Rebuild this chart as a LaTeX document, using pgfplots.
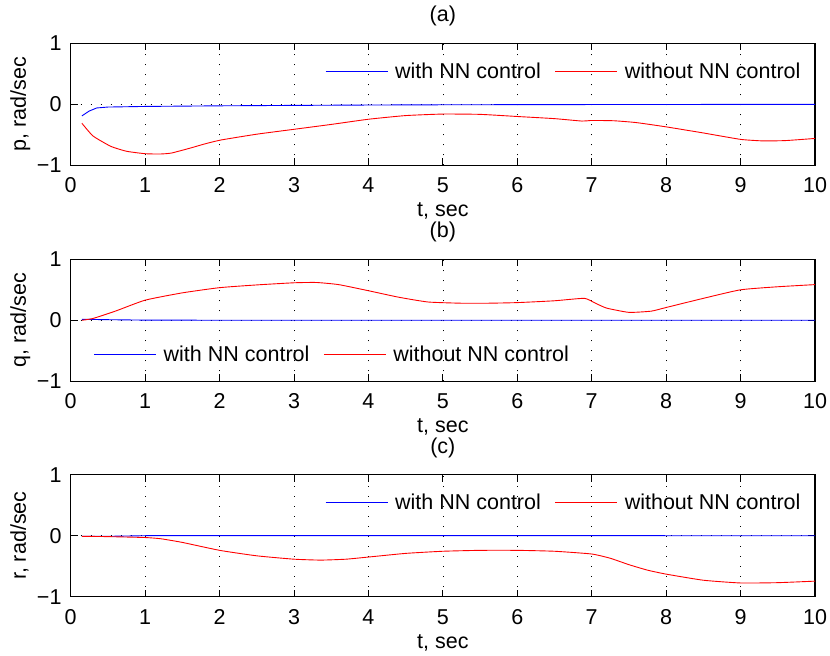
\documentclass[border=0pt]{standalone}
\usepackage{fontspec}
\setmainfont{Liberation Sans}
\usepackage{pgfplots}
\pgfplotsset{compat=1.18}

% Common look of the three angular-rate panels
\pgfplotsset{
  rate panel/.style={
    scale only axis, width=744.3bp, height=122bp,
    xmin=0, xmax=10, ymin=-1, ymax=1,
    xtick={0,1,2,3,4,5,6,7,8,9,10},
    xticklabels={0,1,2,3,4,5,6,7,8,9,10},
    ytick={-1,0,1}, yticklabels={−1,0,1},
    tick align=inside, major tick length=7bp,
    every tick/.style={black, line width=0.8bp},
    axis line style={line width=1.1bp},
    grid=major,
    grid style={black, line width=0.7bp, dash pattern=on 1bp off 9bp},
    xticklabel style={anchor=base, inner sep=0pt, yshift=-27.4bp},
    yticklabel style={anchor=east, inner sep=0pt, xshift=-9bp},
    xlabel={t, sec},
    xlabel style={at={(axis description cs:0.5,0)}, anchor=base, yshift=-51.4bp, inner sep=0pt},
    ylabel style={at={(axis description cs:-0.0601,0.5)}, anchor=base, inner sep=0pt},
    title style={at={(axis description cs:0.5,1)}, anchor=base, yshift=15.5bp, inner sep=0pt},
    legend columns=2,
    legend image code/.code={\draw[#1] (0bp,0bp) -- (62bp,0bp); \path (69bp,0bp);},
    legend style={draw=none, fill=none, inner sep=0pt, outer sep=0pt,
      anchor=west, column sep=0pt,
      nodes={inner sep=0pt},
      /tikz/every even column/.append style={column sep=14bp}},
  },
  with nn/.style={blue, line width=0.9bp},
  without nn/.style={red, line width=0.9bp, smooth, tension=0.3},
}

\begin{document}
\begin{tikzpicture}[font=\fontsize{21.5bp}{25bp}\selectfont]
\useasboundingbox (0,0) rectangle (830bp,656bp);

% (a) roll rate p
\begin{axis}[rate panel, at={(70.7bp,490.7bp)}, anchor=south west,
  title={(a)}, ylabel={p, rad/sec},
  legend style={at={(axis description cs:0.342,0.767)}}]
\addplot[with nn] coordinates {
  (0.15,-0.19) (0.25,-0.11) (0.35,-0.06) (0.5,-0.045) (0.75,-0.04) (1,-0.035)
  (2,-0.025) (3,-0.018) (4,-0.012) (5,-0.008) (6,-0.006) (7,-0.004)
  (8,-0.003) (9,-0.002) (10,-0.001)
};
\addlegendentry{with NN control}
\addplot[without nn] coordinates {
  (0.15,-0.31) (0.3,-0.52) (0.54,-0.69) (0.75,-0.77) (1.0,-0.81) (1.2,-0.815)
  (1.35,-0.80) (1.6,-0.72) (1.8,-0.65) (2.02,-0.585) (2.5,-0.49) (3.0,-0.41)
  (3.5,-0.33) (4.0,-0.245) (4.5,-0.185) (5.0,-0.16) (5.5,-0.165) (6.0,-0.20)
  (6.5,-0.235) (6.87,-0.275) (7.0,-0.265) (7.3,-0.27) (7.6,-0.30) (8.0,-0.37)
  (8.5,-0.47) (9.0,-0.575) (9.3,-0.60) (9.6,-0.595) (10,-0.56)
};
\addlegendentry{without NN control}
\end{axis}

% (b) pitch rate q
\begin{axis}[rate panel, at={(70.7bp,274.7bp)}, anchor=south west,
  title={(b)}, ylabel={q, rad/sec},
  legend style={at={(axis description cs:0.031,0.216)}}]
\addplot[with nn] coordinates {
  (0.15,0.016) (0.5,0.01) (1,0.003) (2,0.001) (4,0) (6,0) (8,0) (10,0)
};
\addlegendentry{with NN control}
\addplot[without nn] coordinates {
  (0.15,0.0) (0.3,0.03) (0.6,0.15) (1.0,0.33) (1.5,0.45) (2.0,0.535)
  (2.5,0.58) (3.0,0.615) (3.3,0.62) (3.6,0.585) (4.0,0.485) (4.4,0.38)
  (4.8,0.30) (5.25,0.28) (5.6,0.28) (6.0,0.29) (6.5,0.32) (6.9,0.36)
  (7.05,0.28) (7.2,0.20) (7.5,0.13) (7.8,0.15) (8.0,0.21) (8.5,0.36)
  (9.0,0.50) (9.5,0.55) (10,0.585)
};
\addlegendentry{without NN control}
\end{axis}

% (c) yaw rate r
\begin{axis}[rate panel, at={(70.7bp,59.3bp)}, anchor=south west,
  title={(c)}, ylabel={r, rad/sec},
  legend style={at={(axis description cs:0.342,0.776)}}]
\addplot[with nn] coordinates {
  (0.15,-0.01) (0.5,-0.01) (1,0.0) (2,0.002) (4,0.002) (6,0.001) (8,0) (10,0)
};
\addlegendentry{with NN control}
\addplot[without nn] coordinates {
  (0.15,-0.01) (0.5,-0.015) (1.0,-0.03) (1.21,-0.05) (1.5,-0.11) (2.0,-0.24)
  (2.5,-0.33) (3.0,-0.385) (3.36,-0.40) (3.7,-0.385) (4.0,-0.35) (4.5,-0.29)
  (5.0,-0.255) (5.5,-0.24) (6.0,-0.24) (6.5,-0.255) (7.0,-0.30) (7.25,-0.37)
  (7.5,-0.475) (7.75,-0.565) (8.0,-0.63) (8.5,-0.73) (9.0,-0.775) (9.5,-0.77)
  (10,-0.745)
};
\addlegendentry{without NN control}
\end{axis}
\end{tikzpicture}
\end{document}
